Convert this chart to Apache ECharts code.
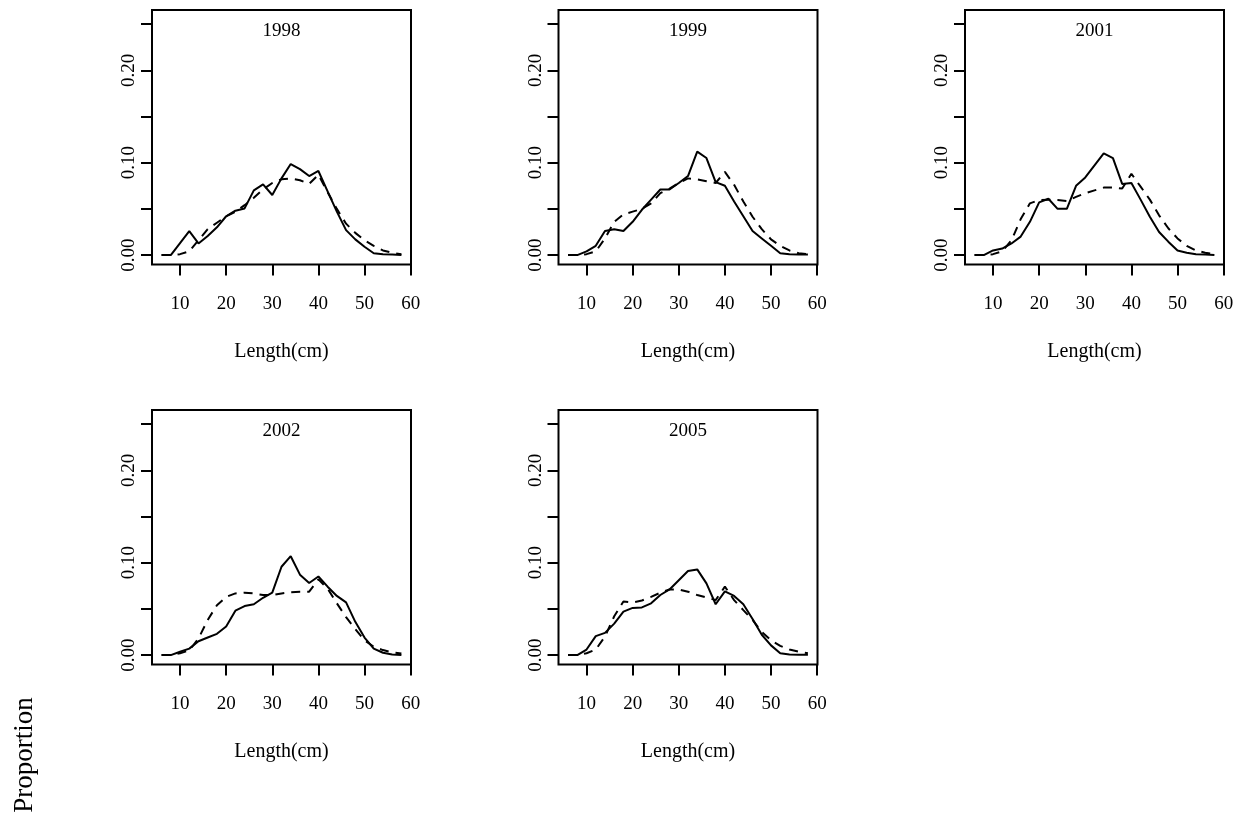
<!DOCTYPE html>
<html><head><meta charset="utf-8">
<script src="https://cdn.jsdelivr.net/npm/echarts@6/dist/echarts.min.js"></script>
<style>html,body{margin:0;padding:0;background:#fff;} #c{width:1247px;height:822px;}</style>
</head><body><div id="c"></div>
<script>
const lengths = [6,8,10,12,14,16,18,20,22,24,26,28,30,32,34,36,38,40,42,44,46,48,50,52,54,56,58];
const years = ['1998','1999','2001','2002','2005'];

const obs1998  = [0,0,0.013,0.026,0.0126,0.0206,0.030,0.042,0.048,0.0505,0.070,0.0765,0.065,0.083,0.0985,0.093,0.0855,0.091,0.069,0.047,0.027,0.017,0.009,0.002,0.001,0.0005,0];
const pred1998 = [0,0,0.001,0.004,0.016,0.028,0.035,0.042,0.047,0.054,0.062,0.071,0.078,0.082,0.083,0.081,0.077,0.087,0.068,0.050,0.034,0.024,0.016,0.010,0.005,0.0025,0.001];
const obs1999  = [0,0,0.004,0.010,0.026,0.028,0.026,0.036,0.049,0.060,0.071,0.071,0.078,0.0855,0.112,0.105,0.079,0.075,0.058,0.042,0.026,0.018,0.010,0.002,0.001,0.0007,0.0007];
const pred1999 = [0,0,0.001,0.004,0.018,0.036,0.044,0.047,0.050,0.056,0.067,0.072,0.078,0.083,0.082,0.080,0.078,0.090,0.076,0.058,0.0415,0.028,0.017,0.010,0.005,0.002,0.001];
const obs2001  = [0,0,0.005,0.007,0.0126,0.020,0.036,0.057,0.061,0.050,0.050,0.075,0.084,0.097,0.110,0.105,0.077,0.078,0.060,0.0415,0.025,0.0145,0.005,0.0025,0.001,0.0007,0];
const pred2001 = [0,0,0.001,0.004,0.016,0.039,0.056,0.0595,0.060,0.0595,0.0585,0.063,0.067,0.070,0.073,0.073,0.072,0.088,0.074,0.060,0.043,0.029,0.018,0.010,0.005,0.0025,0.001];
const obs2002  = [0,0,0.0036,0.007,0.015,0.019,0.023,0.031,0.048,0.053,0.055,0.062,0.0675,0.0956,0.107,0.087,0.078,0.085,0.074,0.064,0.057,0.036,0.019,0.007,0.0025,0.0007,0];
const pred2002 = [0,0,0.002,0.005,0.018,0.038,0.054,0.063,0.0667,0.0675,0.0667,0.065,0.065,0.0667,0.068,0.0686,0.0686,0.082,0.072,0.056,0.041,0.028,0.016,0.009,0.0054,0.003,0.0018];
const obs2005  = [0,0,0.006,0.0205,0.024,0.034,0.047,0.051,0.0516,0.056,0.065,0.071,0.081,0.091,0.0927,0.0776,0.055,0.069,0.064,0.055,0.039,0.022,0.0105,0.002,0.0007,0.0004,0.0004];
const pred2005 = [0,0,0.002,0.006,0.020,0.042,0.058,0.057,0.059,0.063,0.0675,0.071,0.071,0.0686,0.065,0.0624,0.0595,0.074,0.0595,0.0487,0.038,0.025,0.016,0.010,0.006,0.0036,0.002];

const xTickValues = [10,20,30,40,50,60];
const yTickValues = [0,0.05,0.10,0.15,0.20,0.25];
const yLabelValues = [0,0.10,0.20];
const xAxisTitle = 'Length(cm)';
const yAxisTitle = 'Proportion';

const observed = [obs1998, obs1999, obs2001, obs2002, obs2005];
const predicted = [pred1998, pred1999, pred2001, pred2002, pred2005];

const FONT = "'Liberation Serif', 'Times New Roman', serif";
const lefts = [152, 558.5, 965, 152, 558.5];
const tops = [10, 10, 10, 410, 410];
const W = 259, H = 254.5;

const grid = [], xAxis = [], yAxis = [], series = [], title = [];
years.forEach((yr, i) => {
  grid.push({left: lefts[i], top: tops[i], width: W, height: H, show: true,
    borderColor: '#000', borderWidth: 2, backgroundColor: 'transparent', containLabel: false});
  xAxis.push({type: 'value', gridIndex: i, min: 3.92, max: 60.08, position: 'bottom',
    axisLine: {show: false, onZero: false},
    splitLine: {show: false},
    axisTick: {show: true, length: 11, customValues: xTickValues, lineStyle: {color: '#000', width: 2}},
    axisLabel: {show: true, customValues: xTickValues, margin: 30, color: '#000', fontFamily: FONT, fontSize: 19},
    name: xAxisTitle, nameLocation: 'middle', nameGap: 77,
    nameTextStyle: {color: '#000', fontFamily: FONT, fontSize: 20}
  });
  yAxis.push({type: 'value', gridIndex: i, min: -0.0102, max: 0.2652, position: 'left',
    axisLine: {show: false, onZero: false},
    splitLine: {show: false},
    axisTick: {show: true, length: 11, customValues: yTickValues, lineStyle: {color: '#000', width: 2}},
    axisLabel: {show: true, customValues: yLabelValues, rotate: 90, margin: 13, color: '#000',
      fontFamily: FONT, fontSize: 19, formatter: v => Number(v).toFixed(2)}
  });
  title.push({text: yr, left: lefts[i] + W / 2, top: tops[i] + 12, textAlign: 'center', padding: 0,
    textStyle: {color: '#000', fontFamily: FONT, fontSize: 19, fontWeight: 'normal'}});
  series.push({type: 'line', xAxisIndex: i, yAxisIndex: i, symbol: 'none', animation: false,
    data: lengths.map((x, k) => [x, observed[i][k]]),
    lineStyle: {color: '#000', width: 2, type: 'solid'}});
  series.push({type: 'line', xAxisIndex: i, yAxisIndex: i, symbol: 'none', animation: false,
    data: lengths.map((x, k) => [x, predicted[i][k]]),
    lineStyle: {color: '#000', width: 2, type: [9, 7]}});
});

const chart = echarts.init(document.getElementById('c'), null, {renderer: 'canvas'});
chart.setOption({
  animation: false,
  backgroundColor: '#fff',
  title, grid, xAxis, yAxis, series,
  graphic: [{type: 'text', x: 25, y: 755, rotation: Math.PI / 2,
    style: {text: yAxisTitle, fill: '#000', font: "27px 'Liberation Serif', serif", textAlign: 'center', textVerticalAlign: 'middle'}}]
});
</script></body></html>
